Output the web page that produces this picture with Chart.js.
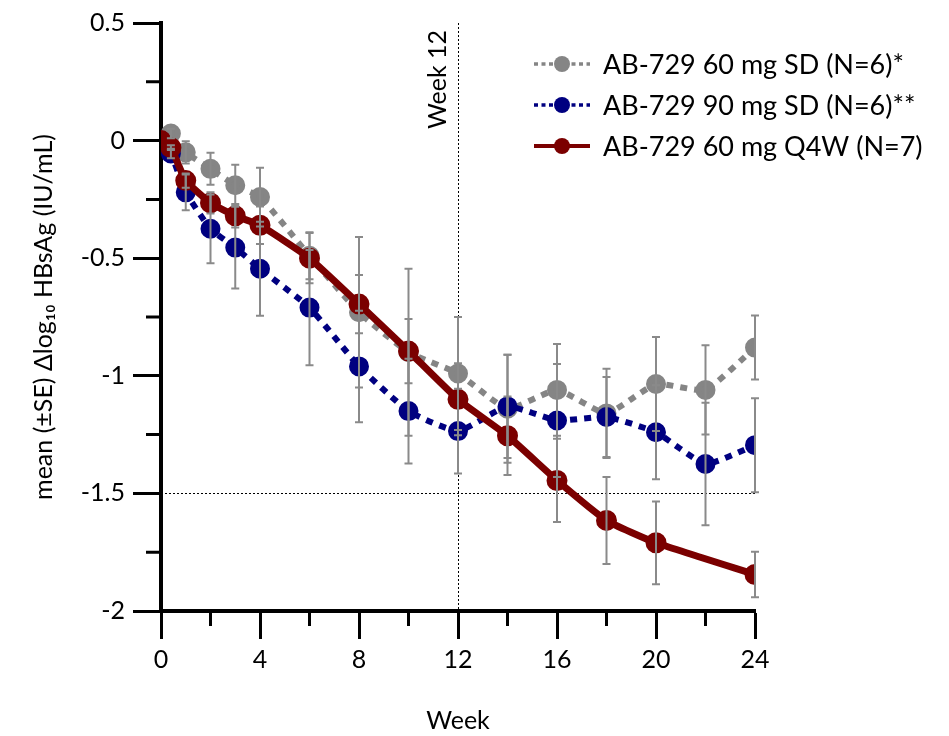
<!DOCTYPE html>
<html>
<head>
<meta charset="utf-8">
<script src="https://cdn.jsdelivr.net/npm/chart.js@4"></script>
<style>
  body { margin: 0; background: #fff; }
  #wrap { width: 949px; height: 736px; }
</style>
</head>
<body>
<div id="wrap"><canvas id="hbsagChart" width="949" height="736"></canvas></div>
<script>
// weeks on study
const weeks = [0, 0.4, 1, 2, 3, 4, 6, 8, 10, 12, 14, 16, 18, 20, 22, 24];

// mean change from baseline, log10 IU/mL
const sd60Mean = [0, 0.03, -0.05, -0.12, -0.19, -0.24, -0.49, -0.73, -0.90, -0.99, -1.14, -1.06, -1.16, -1.035, -1.06, -0.88];
const sd60SE   = [0, 0.02, 0.047, 0.068, 0.087, 0.125, 0.10, 0.32, 0.355, 0.24, 0.23, 0.195, 0.19, 0.20, 0.19, 0.136];

const sd90Mean = [0, -0.055, -0.22, -0.375, -0.455, -0.545, -0.71, -0.96, -1.15, -1.235, -1.13, -1.19, -1.175, -1.24, -1.375, -1.295];
const sd90SE   = [0, 0.02, 0.076, 0.146, 0.174, 0.20, 0.245, 0.237, 0.223, 0.18, 0.22, 0.24, 0.17, 0.20, 0.26, 0.20];

const q4wMean = [0, -0.03, -0.17, -0.265, -0.32, -0.36, -0.50, -0.695, -0.895, -1.10, -1.255, -1.445, -1.615, -1.71, null, -1.845];
const q4wSE   = [0, 0.01, 0.03, 0.045, 0.05, 0.08, 0.107, 0.124, 0.137, 0.153, 0.167, 0.177, 0.185, 0.176, null, 0.097];

const seriesLabels = ['AB-729 60 mg SD (N=6)*', 'AB-729 90 mg SD (N=6)**', 'AB-729 60 mg Q4W (N=7)'];

const xTicks = [0, 4, 8, 12, 16, 20, 24];
const xMinorTicks = [2, 6, 10, 14, 18, 22];
const yMinorTicks = [0.25, -0.25, -0.75, -1.25, -1.75];

const refWeek = 12;
const refLevel = -1.5;

const FONT = 'Lato, "Liberation Sans", sans-serif';

function toPoints(ys) {
    return weeks.map((w, i) => ({ x: w, y: ys[i] }));
}

// gray error bars with caps, drawn over the lines
const errorBars = {
    id: 'errorBars',
    afterDatasetsDraw(chart) {
        const { ctx, scales: { x, y } } = chart;
        ctx.save();
        ctx.strokeStyle = '#8a8a8a';
        ctx.lineWidth = 2;
        chart.data.datasets.forEach(ds => {
            ds.data.forEach((p, i) => {
                const se = ds.se[i];
                if (p.y == null || !se) return;
                const px = x.getPixelForValue(p.x);
                const top = y.getPixelForValue(p.y + se);
                const bot = y.getPixelForValue(p.y - se);
                ctx.beginPath();
                ctx.moveTo(px, top); ctx.lineTo(px, bot);
                ctx.moveTo(px - 4, top); ctx.lineTo(px + 4, top);
                ctx.moveTo(px - 4, bot); ctx.lineTo(px + 4, bot);
                ctx.stroke();
            });
        });
        ctx.restore();
    }
};

// dotted week 12 and -1.5 reference lines
const refLines = {
    id: 'refLines',
    beforeDatasetsDraw(chart) {
        const { ctx, chartArea: a, scales: { x, y } } = chart;
        ctx.save();
        ctx.strokeStyle = '#000';
        ctx.lineWidth = 1;
        ctx.setLineDash([2, 2]);
        const vx = Math.round(x.getPixelForValue(refWeek)) + 0.5;
        ctx.beginPath(); ctx.moveTo(vx, a.top); ctx.lineTo(vx, a.bottom); ctx.stroke();
        const hy = Math.round(y.getPixelForValue(refLevel)) + 0.5;
        ctx.beginPath(); ctx.moveTo(a.left, hy); ctx.lineTo(x.getPixelForValue(24), hy); ctx.stroke();
        ctx.setLineDash([]);
        ctx.fillStyle = '#000';
        ctx.font = '25px ' + FONT;
        ctx.translate(vx - 21, a.top + 7);
        ctx.rotate(-Math.PI / 2);
        ctx.textAlign = 'right';
        ctx.textBaseline = 'middle';
        ctx.fillText('Week 12', 0, 0);
        ctx.restore();
    }
};

// short minor ticks between the labelled ones
const minorTicks = {
    id: 'minorTicks',
    afterDraw(chart) {
        const { ctx, chartArea: a, scales: { x, y } } = chart;
        ctx.save();
        ctx.strokeStyle = '#000';
        ctx.lineWidth = 3;
        ctx.beginPath();
        xMinorTicks.forEach(v => {
            const px = x.getPixelForValue(v);
            ctx.moveTo(px, a.bottom); ctx.lineTo(px, a.bottom + 15);
        });
        yMinorTicks.forEach(v => {
            const py = y.getPixelForValue(v);
            ctx.moveTo(a.left, py); ctx.lineTo(a.left - 15, py);
        });
        ctx.stroke();
        ctx.restore();
    }
};

// legend with line + marker samples
const lineLegend = {
    id: 'lineLegend',
    afterDraw(chart) {
        const ctx = chart.ctx;
        const x0 = 534, x1 = 590, tx = 603;
        const rows = [64, 105, 146];
        ctx.save();
        chart.data.datasets.forEach((ds, i) => {
            const yy = rows[i];
            ctx.strokeStyle = ds.borderColor;
            ctx.lineWidth = ds.borderDash ? 3.5 : 4;
            ctx.setLineDash(ds.borderDash ? [4, 3.5] : []);
            ctx.beginPath(); ctx.moveTo(x0, yy); ctx.lineTo(x1, yy); ctx.stroke();
            ctx.setLineDash([]);
            ctx.fillStyle = ds.pointBackgroundColor;
            ctx.beginPath(); ctx.arc((x0 + x1) / 2, yy, 8, 0, Math.PI * 2); ctx.fill();
            ctx.fillStyle = '#000';
            ctx.font = '27px ' + FONT;
            ctx.textAlign = 'left';
            ctx.textBaseline = 'middle';
            ctx.fillText(ds.label, tx, yy + 1);
        });
        ctx.restore();
    }
};

function createChart() {
    const ctx = document.getElementById('hbsagChart').getContext('2d');
    new Chart(ctx, {
        type: 'line',
        data: {
            datasets: [
                {
                    label: seriesLabels[0],
                    data: toPoints(sd60Mean),
                    se: sd60SE,
                    borderColor: '#858585',
                    pointBackgroundColor: '#858585',
                    borderWidth: 6,
                    borderDash: [7, 7],
                    order: 3
                },
                {
                    label: seriesLabels[1],
                    data: toPoints(sd90Mean),
                    se: sd90SE,
                    borderColor: '#000080',
                    pointBackgroundColor: '#000080',
                    borderWidth: 6,
                    borderDash: [7, 7],
                    order: 2
                },
                {
                    label: seriesLabels[2],
                    data: toPoints(q4wMean),
                    se: q4wSE,
                    borderColor: '#7b0000',
                    pointBackgroundColor: '#7b0000',
                    borderWidth: 7,
                    order: 1
                }
            ]
        },
        options: {
            responsive: false,
            animation: false,
            spanGaps: true,
            layout: { padding: { top: 21, right: 194, bottom: 0, left: 0 } },
            elements: {
                line: { tension: 0.15, borderCapStyle: 'butt', fill: false },
                point: { radius: 7, borderWidth: 0, hoverRadius: 7 }
            },
            plugins: {
                legend: { display: false },
                tooltip: { enabled: false }
            },
            scales: {
                x: {
                    type: 'linear',
                    min: 0,
                    max: 24,
                    afterBuildTicks: s => { s.ticks = xTicks.map(v => ({ value: v })); },
                    afterFit: s => { s.height = 125; },
                    border: { display: true, color: '#000', width: 4 },
                    grid: { drawOnChartArea: false, tickLength: 28, tickWidth: 3, tickColor: '#000' },
                    ticks: { color: '#000', font: { family: FONT, size: 25 }, padding: 6, maxRotation: 0 },
                    title: { display: true, text: 'Week', color: '#000', font: { family: FONT, size: 25 }, padding: { top: 0, bottom: 0 } }
                },
                y: {
                    min: -2,
                    max: 0.5,
                    ticks: {
                        stepSize: 0.5,
                        color: '#000',
                        font: { family: FONT, size: 25 },
                        padding: 8,
                        callback: v => String(v)
                    },
                    afterFit: s => { s.width = 161; },
                    border: { display: true, color: '#000', width: 4 },
                    grid: { drawOnChartArea: false, tickLength: 28, tickWidth: 3, tickColor: '#000' },
                    title: {
                        display: true,
                        text: 'mean (±SE) Δlog\u2081\u2080 HBsAg (IU/mL)',
                        color: '#000',
                        font: { family: FONT, size: 25 },
                        padding: { top: 29, bottom: 0 }
                    }
                }
            }
        },
        plugins: [refLines, errorBars, minorTicks, lineLegend]
    });
}

window.onload = function() {
    createChart();
};
</script>
</body>
</html>
